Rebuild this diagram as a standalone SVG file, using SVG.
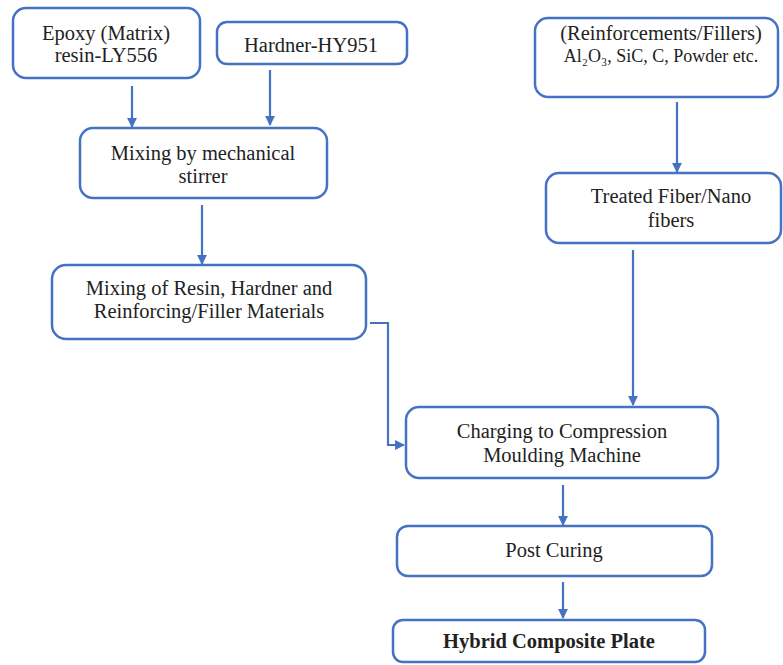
<svg xmlns="http://www.w3.org/2000/svg" width="783" height="665" viewBox="0 0 783 665">
<style>
.box{fill:#fff;stroke:#4472C4;stroke-width:2.5}
.t{font-family:"Liberation Serif","Times New Roman","DejaVu Serif",serif;font-size:20.5px;fill:#222;text-anchor:middle}
.b{font-weight:bold}
.c{fill:none;stroke:#4472C4;stroke-width:2.2}
</style>
<defs>
<marker id="ah" viewBox="0 0 10 10" refX="9" refY="5" markerWidth="4.5" markerHeight="4.5" orient="auto" markerUnits="strokeWidth">
<path d="M0,0 L10,5 L0,10 z" fill="#4472C4"/>
</marker>
</defs>
<rect width="783" height="665" fill="#fff"/>
<g id="connectors">
<line class="c" x1="132" y1="86" x2="132" y2="127" marker-end="url(#ah)"/>
<line class="c" x1="270" y1="70" x2="270" y2="125" marker-end="url(#ah)"/>
<line class="c" x1="202" y1="205" x2="202" y2="264" marker-end="url(#ah)"/>
<line class="c" x1="677" y1="102" x2="677" y2="172" marker-end="url(#ah)"/>
<line class="c" x1="633" y1="250" x2="633" y2="405" marker-end="url(#ah)"/>
<polyline class="c" points="370,323 388,323 388,445 404,445" marker-end="url(#ah)"/>
<line class="c" x1="563" y1="485" x2="563" y2="525" marker-end="url(#ah)"/>
<line class="c" x1="563" y1="582" x2="563" y2="618" marker-end="url(#ah)"/>
</g>
<g id="epoxy">
<rect class="box" x="13" y="8" width="187" height="70" rx="13"/>
<text class="t" x="106" y="40">Epoxy (Matrix)</text>
<text class="t" x="106" y="62">resin-LY556</text>
</g>
<g id="hardner">
<rect class="box" x="217" y="22" width="190" height="42" rx="10"/>
<text class="t" x="311" y="52">Hardner-HY951</text>
</g>
<g id="mixing-mech">
<rect class="box" x="80" y="128" width="247" height="70" rx="13"/>
<text class="t" x="203" y="160">Mixing by mechanical</text>
<text class="t" x="203" y="183">stirrer</text>
</g>
<g id="reinforcements">
<rect class="box" x="535" y="18" width="243" height="79" rx="13"/>
<text class="t" x="661" y="40">(Reinforcements/Fillers)</text>
<text class="t" x="661" y="62" style="font-size:18px">Al₂O₃, SiC, C, Powder etc.</text>
</g>
<g id="treated">
<rect class="box" x="546" y="173" width="235" height="70" rx="13"/>
<text class="t" x="671" y="203">Treated Fiber/Nano</text>
<text class="t" x="671" y="227">fibers</text>
</g>
<g id="mixing-resin">
<rect class="box" x="52" y="265" width="314" height="74" rx="14"/>
<text class="t" x="209" y="295">Mixing of Resin, Hardner and</text>
<text class="t" x="209" y="318">Reinforcing/Filler Materials</text>
</g>
<g id="charging">
<rect class="box" x="406" y="407" width="312" height="71" rx="13"/>
<text class="t" x="562" y="438">Charging to Compression</text>
<text class="t" x="562" y="462">Moulding Machine</text>
</g>
<g id="post-curing">
<rect class="box" x="397" y="526" width="315" height="50" rx="11"/>
<text class="t" x="554" y="557">Post Curing</text>
</g>
<g id="hybrid">
<rect class="box" x="393" y="620" width="312" height="42" rx="10"/>
<text class="t b" x="549" y="648">Hybrid Composite Plate</text>
</g>
</svg>
